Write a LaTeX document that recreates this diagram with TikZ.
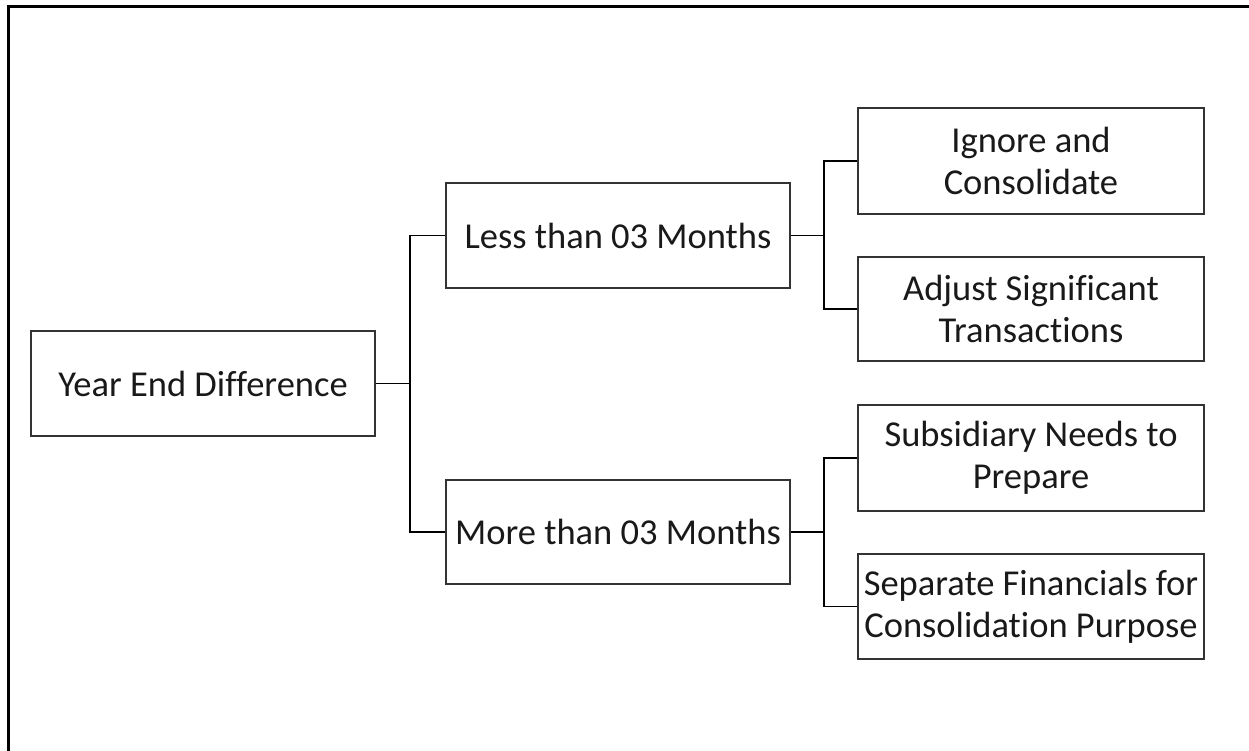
\documentclass[tikz,border=0pt]{standalone}
\usepackage{fontspec}
\setmainfont[Ligatures=NoCommon]{Carlito}
\begin{document}
\begin{tikzpicture}[x=1pt,y=-1pt,
  box/.style={draw=black!80, line width=1.3pt, rectangle, inner sep=0pt,
    align=center, font=\fontsize{36.5}{42}\selectfont, text=black!90},
  wide/.style={minimum width=344pt, minimum height=105pt},
  leaf/.style={minimum width=346pt, minimum height=105pt},
  link/.style={draw=black, line width=1.2pt}]
\useasboundingbox (0,0) rectangle (1249,751);
% outer frame (top and left edges)
\draw[line width=3pt] (8,751) -- (8,7) -- (1249,7);

% root
\node[box, wide] (ye) at (203,383.5) {Year End Difference};
% first level
\node[box, wide] (less) at (618,235.5) {Less than 03 Months};
\node[box, wide, minimum height=104pt] (more) at (618,532) {More than 03 Months};
% second level
\node[box, leaf, minimum height=106pt] (ign) at (1031,161) {Ignore and\\Consolidate};
\node[box, leaf, minimum height=104pt] (adj) at (1031,309) {Adjust Significant\\Transactions};
\node[box, leaf, minimum height=106pt] (sub) at (1031,458) {Subsidiary Needs to\\Prepare};
\node[box, leaf] (sep) at (1031,606.5) {Separate Financials for\\Consolidation Purpose};

% bus connectors
\coordinate (b1) at (410,0);
\coordinate (b2) at (824,0);
\draw[link] (ye.east) -- (ye.east -| b1);
\draw[link] (less.west) -| (b1 |- more.west) -- (more.west);
\draw[link] (less.east) -- (less.east -| b2);
\draw[link] (ign.west) -| (b2 |- adj.west) -- (adj.west);
\draw[link] (more.east) -- (more.east -| b2);
\draw[link] (sub.west) -| (b2 |- sep.west) -- (sep.west);
\end{tikzpicture}
\end{document}
